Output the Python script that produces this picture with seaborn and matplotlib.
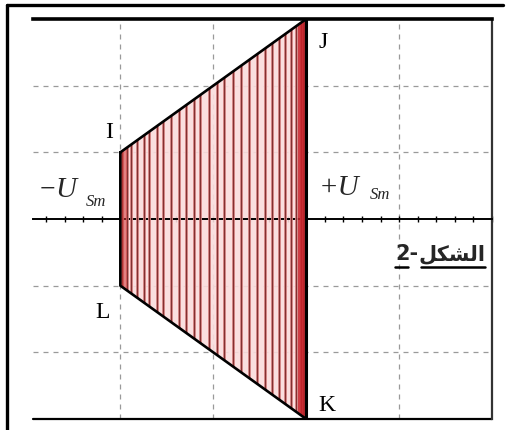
import numpy as np
import pandas as pd
import matplotlib
matplotlib.use("Agg")
import matplotlib.pyplot as plt
import seaborn as sns
from matplotlib.lines import Line2D
from matplotlib.ticker import AutoMinorLocator

# --- data (units = divisions) ---
corner_labels = ["I", "J", "K", "L"]
corner_x = [-1.0, 1.0, 1.0, -1.0]
corner_y = [1.0, 3.0, -3.0, -1.0]

# x positions of the carrier strokes seen inside the trapezoid
stroke_x = [-0.98, -0.93, -0.88, -0.82, -0.75, -0.69, -0.61, -0.54, -0.46,
            -0.37, -0.29, -0.21, -0.14, -0.05, 0.04, 0.12, 0.21, 0.30,
            0.38, 0.47, 0.56, 0.63, 0.71, 0.77, 0.84, 0.89, 0.94, 0.97]

fig_label_num = "2-"
fig_label_ar = "\uFEDE\uFEDC\uFEB8\uFEDF\uFE8D"   # الشكل (presentation forms, visual order)

sns.set_theme(style="white")
plt.rcParams["font.family"] = ["Liberation Serif", "DejaVu Serif"]

fig = plt.figure(figsize=(5.13, 4.30), dpi=100)
ax = fig.add_axes([33 / 513, 11 / 430, 459 / 513, 400 / 430])
ax.set_xlim(-1.94, 3.0)
ax.set_ylim(-3, 3)

# grid
ax.set_xticks([-1, 0, 1, 2])
ax.set_yticks([-2, -1, 1, 2])
ax.xaxis.set_minor_locator(AutoMinorLocator(5))
ax.grid(True, which="major", color="#9a9a9a", linestyle=(0, (4, 4)), linewidth=0.9)
ax.set_axisbelow(True)
ax.set_xticklabels([])
ax.set_yticklabels([])
ax.tick_params(axis="y", length=0)
ax.tick_params(axis="x", which="both", direction="inout", length=5, width=1,
               color="black", bottom=True)

# frame: centre axis + right/top/bottom
ax.spines["bottom"].set_position(("data", 0))
ax.spines["bottom"].set_linewidth(1.4)
ax.spines["bottom"].set_color("black")
ax.spines["left"].set_visible(False)
ax.spines["top"].set_linewidth(2.6)
ax.spines["top"].set_color("black")
ax.spines["right"].set_linewidth(1.6)
ax.spines["right"].set_color("#333333")
ax.axhline(-3, color="black", lw=1.6, clip_on=False)

# trapezoid fill
trap = ax.fill(corner_x, corner_y, color="#fadcdc", alpha=0.9, lw=0, zorder=2)[0]

# dense red bands where the trace lingers at the edges
left_band = ax.axvspan(corner_x[0], corner_x[0] + 0.07, color="#cf3535", alpha=0.55, lw=0, zorder=3.3)
right_band = ax.axvspan(corner_x[1] - 0.09, corner_x[1], color="#c8222a", alpha=0.85, lw=0, zorder=3.3)
left_band.set_clip_path(trap)
right_band.set_clip_path(trap)

# carrier strokes, clipped to the envelope
strokes_glow = ax.vlines(stroke_x, -3, 3, color="#e59494", lw=2.0, zorder=3)
strokes = ax.vlines(stroke_x, -3, 3, color="#823030", lw=1.0, zorder=3.2)
strokes_glow.set_clip_path(trap)
strokes.set_clip_path(trap)

# envelope outline I -> J -> K -> L -> I
outline = pd.DataFrame({"x": corner_x + corner_x[:1], "y": corner_y + corner_y[:1]})
sns.lineplot(data=outline, x="x", y="y", sort=False, estimator=None,
             color="black", lw=1.9, ax=ax, zorder=4)
ax.plot(corner_x[1:3], corner_y[1:3], color="black", lw=2.2, zorder=4.1)
ax.set_xlabel("")
ax.set_ylabel("")

# corner labels
label_offsets = {"I": (-8, 14), "J": (12, -17), "K": (15, 10), "L": (-13, -19)}
for lab, cx, cy in zip(corner_labels, corner_x, corner_y):
    dx, dy = label_offsets[lab]
    ax.annotate(lab, (cx, cy), xytext=(dx, dy), textcoords="offset points",
                ha="center", va="center", fontsize=17, color="black", zorder=6)

# ±U_Sm labels
ax.text(-1.865, 0.33, "\u2212", fontsize=20, ha="left", va="baseline")
ax.text(-1.70, 0.33, "U", fontsize=21, style="italic", ha="left", va="baseline")
ax.text(-1.37, 0.20, "Sm", fontsize=12, style="italic", ha="left", va="baseline")
ax.text(1.14, 0.36, "+U", fontsize=21, style="italic", ha="left", va="baseline")
ax.text(1.68, 0.30, "Sm", fontsize=12, style="italic", ha="left", va="baseline")

# figure caption (Arabic) with underline
t_ar = ax.text(2.93, -0.62, fig_label_ar, fontsize=15, fontweight="bold",
               family=["DejaVu Sans"], ha="right", va="baseline", zorder=6)
fig.canvas.draw()
r = fig.canvas.get_renderer()
bb_ar = t_ar.get_window_extent(r)
inv = ax.transData.inverted()
x_ar0 = inv.transform((bb_ar.x0, bb_ar.y0))[0]
t_num = ax.text(x_ar0, -0.62, fig_label_num, fontsize=15, fontweight="bold",
                family=["DejaVu Sans"], ha="right", va="baseline", zorder=6)
fig.canvas.draw()
bb_num = t_num.get_window_extent(r)
x_num0 = inv.transform((bb_num.x0, 0))[0]
x_num1 = inv.transform((bb_num.x0 + bb_num.width * 0.55, 0))[0]
x_ar1 = inv.transform((bb_ar.x1, 0))[0]
ax.plot([x_num0, x_num1], [-0.72, -0.72], color="black", lw=1.8, zorder=6)
ax.plot([x_ar0 + 0.03, x_ar1], [-0.72, -0.72], color="black", lw=1.8, zorder=6)

# outer page frame (left and top only)
fig.add_artist(Line2D([7 / 513, 7 / 513], [0, 1 - 5 / 430], color="black", lw=2.4))
fig.add_artist(Line2D([7 / 513, 503 / 513], [1 - 5 / 430, 1 - 5 / 430], color="black", lw=2.4))

fig.savefig("out.png", dpi=100)
